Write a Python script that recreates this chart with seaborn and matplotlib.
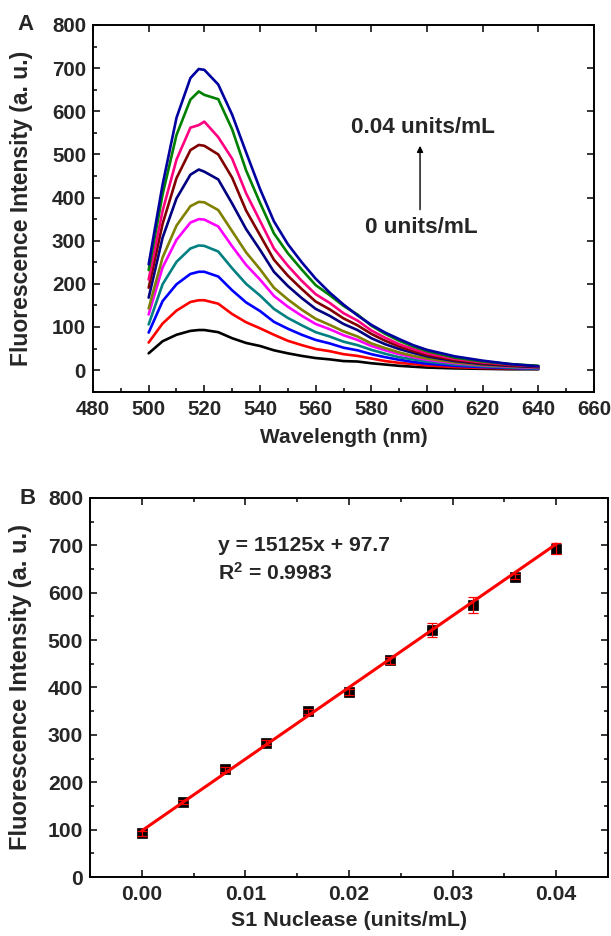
import numpy as np
import pandas as pd
import matplotlib
matplotlib.use("Agg")
import matplotlib.pyplot as plt
import seaborn as sns
from matplotlib.ticker import MultipleLocator, FormatStrFormatter

# ---------------- Panel A: emission spectra ----------------
wavelength = [500, 505, 510, 515, 518, 520, 525, 530, 535, 540, 545, 550, 555,
              560, 565, 570, 575, 580, 585, 590, 595, 600, 610, 620, 630, 640]

spec_0000 = [39, 67, 82, 91, 93, 93, 88, 74, 63, 56, 46, 39, 33, 28, 25, 21, 20, 16, 13, 10, 8, 6, 4, 3, 2, 2]
spec_0004 = [64, 108, 138, 158, 162, 162, 154, 130, 111, 97, 82, 68, 58, 49, 44, 37, 33, 27, 21, 17, 14, 11, 7, 5, 4, 3]
spec_0008 = [87, 160, 199, 223, 228, 228, 217, 185, 157, 137, 112, 96, 82, 70, 62, 52, 46, 37, 30, 24, 19, 15, 10, 7, 5, 3]
spec_0012 = [106, 199, 251, 282, 289, 288, 275, 236, 200, 173, 142, 121, 104, 88, 78, 66, 58, 47, 38, 30, 25, 20, 13, 9, 6, 4]
spec_0016 = [129, 238, 302, 342, 350, 349, 333, 287, 244, 210, 172, 147, 126, 107, 95, 81, 70, 56, 46, 37, 30, 24, 16, 11, 8, 5]
spec_0020 = [143, 261, 335, 380, 390, 389, 371, 322, 273, 234, 191, 164, 140, 119, 105, 90, 78, 62, 51, 41, 33, 27, 18, 12, 9, 6]
spec_0024 = [168, 307, 398, 453, 465, 460, 442, 386, 327, 279, 228, 195, 167, 142, 126, 107, 93, 74, 60, 49, 40, 32, 21, 14, 10, 7]
spec_0028 = [191, 339, 445, 510, 522, 520, 500, 446, 370, 313, 256, 219, 188, 159, 141, 120, 104, 84, 68, 55, 44, 35, 23, 16, 11, 8]
spec_0032 = [210, 369, 488, 562, 568, 576, 540, 490, 410, 346, 282, 242, 207, 176, 156, 132, 115, 92, 75, 60, 49, 39, 26, 18, 13, 9]
spec_0036 = [232, 407, 545, 627, 646, 638, 628, 558, 463, 388, 317, 271, 233, 197, 174, 149, 129, 103, 84, 68, 55, 44, 29, 20, 14, 10]
spec_0040 = [245, 430, 585, 677, 698, 696, 662, 592, 505, 420, 345, 292, 250, 212, 180, 152, 127, 105, 87, 72, 58, 47, 32, 22, 14, 9]

spectra = [spec_0000, spec_0004, spec_0008, spec_0012, spec_0016, spec_0020,
           spec_0024, spec_0028, spec_0032, spec_0036, spec_0040]
spec_conc = ["0", "0.004", "0.008", "0.012", "0.016", "0.020",
             "0.024", "0.028", "0.032", "0.036", "0.040"]
spec_colors = ["#000000", "#ff0000", "#0000ff", "#008080", "#ff00ff", "#808000",
               "#000080", "#800000", "#ff0080", "#008000", "#0000a0"]

# ---------------- Panel B: calibration ----------------
s1_conc = [0.000, 0.004, 0.008, 0.012, 0.016, 0.020, 0.024, 0.028, 0.032, 0.036, 0.040]
s1_intensity = [92.6, 158.5, 227, 283.6, 349.5, 391, 457, 521, 575, 634, 693]
s1_error = [5, 5, 5, 5, 5, 6, 8, 15, 17, 6, 12]
fit_slope = 15125
fit_intercept = 97.7
fit_r2 = 0.9983

sns.set_theme(style="ticks")
plt.rcParams["font.family"] = ["Liberation Sans", "DejaVu Sans"]
plt.rcParams["font.weight"] = "bold"
plt.rcParams["mathtext.fontset"] = "custom"
plt.rcParams["mathtext.rm"] = "Liberation Sans:bold"
plt.rcParams["mathtext.default"] = "rm"

fig = plt.figure(figsize=(6.11, 9.36), dpi=100)
ax1 = fig.add_axes([0.1522, 0.5815, 0.8200, 0.3918])
ax2 = fig.add_axes([0.1473, 0.0630, 0.8478, 0.4050])

spec_df = pd.concat(
    [pd.DataFrame({"wavelength": wavelength, "intensity": s, "conc": c})
     for s, c in zip(spectra, spec_conc)],
    ignore_index=True)

sns.lineplot(data=spec_df, x="wavelength", y="intensity", hue="conc",
             hue_order=spec_conc, palette=spec_colors, linewidth=1.9,
             legend=False, ax=ax1, estimator=None, sort=False)

ax1.set_xlim(480, 660)
ax1.set_ylim(-50, 800)
ax1.xaxis.set_major_locator(MultipleLocator(20))
ax1.xaxis.set_minor_locator(MultipleLocator(10))
ax1.yaxis.set_major_locator(MultipleLocator(100))
ax1.yaxis.set_minor_locator(MultipleLocator(50))

ax1.annotate("", xy=(597.5, 520), xytext=(597.5, 372),
             arrowprops=dict(arrowstyle="-|>", color="black", lw=1.0,
                             mutation_scale=9, shrinkA=0, shrinkB=0))
ax1.text(598.5, 563, "0.04 units/mL", ha="center", va="center",
         fontsize=16.2, fontweight="bold")
ax1.text(597.8, 330, "0 units/mL", ha="center", va="center",
         fontsize=16.2, fontweight="bold")

# Panel B: points, error bars and fitted line
calib_df = pd.DataFrame({"conc": s1_conc, "intensity": s1_intensity})
sns.scatterplot(data=calib_df, x="conc", y="intensity", marker="s", s=42,
                color="black", edgecolor="black", linewidth=0.5, zorder=3, ax=ax2)
ax2.errorbar(s1_conc, s1_intensity, yerr=s1_error, fmt="none", ecolor="red",
             elinewidth=0.9, capsize=3.5, capthick=0.9, zorder=5)
fit_x = [s1_conc[0], s1_conc[-1]]
fit_df = pd.DataFrame({"conc": fit_x,
                       "fit": [fit_slope * x + fit_intercept for x in fit_x]})
sns.lineplot(data=fit_df, x="conc", y="fit", color="red", linewidth=2.2,
             ax=ax2, zorder=4)

ax2.set_xlim(-0.005, 0.045)
ax2.set_ylim(0, 800)
ax2.xaxis.set_major_locator(MultipleLocator(0.01))
ax2.xaxis.set_minor_locator(MultipleLocator(0.005))
ax2.yaxis.set_major_locator(MultipleLocator(100))
ax2.yaxis.set_minor_locator(MultipleLocator(50))
ax2.xaxis.set_major_formatter(FormatStrFormatter("%.2f"))

ax2.text(0.0074, 699, f"y = {fit_slope}x + {fit_intercept}", ha="left",
         va="center", fontsize=15.2, fontweight="bold")
ax2.text(0.0074, 642, f"R$^2$ = {fit_r2}", ha="left", va="center",
         fontsize=15.2, fontweight="bold")

# Axis styling shared by both panels
for ax, fs, mirror_minor in ((ax1, 14.8, False), (ax2, 15.2, True)):
    for sp in ax.spines.values():
        sp.set_linewidth(1.4)
        sp.set_color("black")
    ax.tick_params(which="major", direction="in", length=5, width=1.1,
                   labelsize=fs, color="black", top=True, right=True)
    ax.tick_params(which="minor", direction="in", length=3, width=1.1,
                   color="black", top=mirror_minor, right=mirror_minor)
    ax.tick_params(axis="x", pad=6)
    ax.tick_params(axis="y", pad=5)
    for lab in ax.get_xticklabels() + ax.get_yticklabels():
        lab.set_fontweight("bold")

ax1.set_xlabel("Wavelength (nm)", fontsize=15, fontweight="bold")
ax1.set_ylabel("Fluorescence Intensity (a. u.)", fontsize=16.5, fontweight="bold")
ax2.set_xlabel("S1 Nuclease (units/mL)", fontsize=15.4, fontweight="bold")
ax2.set_ylabel("Fluorescence Intensity (a. u.)", fontsize=17, fontweight="bold")
ax1.yaxis.set_label_coords(-0.12, 0.5)
ax2.yaxis.set_label_coords(-0.112, 0.5)
ax1.xaxis.set_label_coords(0.5, -0.098)
ax2.xaxis.set_label_coords(0.5, -0.09)

fig.text(26 / 611, 1 - 24 / 936, "A", ha="center", va="center",
         fontsize=16, fontweight="bold")
fig.text(28 / 611, 1 - 498 / 936, "B", ha="center", va="center",
         fontsize=16, fontweight="bold")

fig.savefig("out.png", dpi=100)
